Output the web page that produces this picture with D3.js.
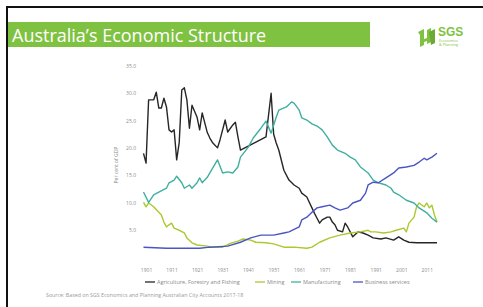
<!DOCTYPE html>
<html><head><meta charset="utf-8">
<script src="https://cdn.jsdelivr.net/npm/d3@7"></script>
<style>html,body{margin:0;padding:0;background:#fff;overflow:hidden}</style>
</head><body>
<svg id="c" width="483" height="307"></svg>
<script>
const title = "Australia\u2019s Economic Structure";
const yAxisTitle = "Per cent of GDP";
const yTicks = [5, 10, 15, 20, 25, 30, 35];
const xTicks = [1901, 1911, 1921, 1931, 1941, 1951, 1961, 1971, 1981, 1991, 2001, 2011];
const seriesNames = ["Agriculture, Forestry and Fishing", "Mining", "Manufacturing", "Business services"];
const seriesColors = ["#262626", "#a9c92f", "#3fb0a0", "#4a55c4"];
const source = "Source: Based on SGS Economics and Planning Australian City Accounts 2017-18";

const agriculture = [[1900,19],[1901,17.2],[1902,28.8],[1904,28.8],[1905,30.2],[1906,27.3],[1907,27.3],[1908,29.1],[1909,27.5],[1910,23.3],[1911,22.9],[1912,23.3],[1913,17.8],[1914,21],[1915,30.6],[1916,31],[1917,28.8],[1918,23.6],[1919,27.8],[1921,25.6],[1922,23.3],[1923,26.4],[1925,22.8],[1926,21.8],[1927,21],[1929,20],[1930,21.5],[1932,25.1],[1933,22.9],[1935,24.2],[1936,24.7],[1937,22],[1938,19.6],[1948,22],[1950,30],[1951,22.5],[1952,20.9],[1953,19.6],[1955,15.9],[1957,14.1],[1959,13.2],[1961,12.6],[1962,11.7],[1964,11],[1965,10],[1966,9],[1967,8],[1968,7.1],[1969,6.2],[1970,6.8],[1972,7.3],[1973,7.3],[1974,6.4],[1975,5.9],[1976,4.9],[1978,4.6],[1979,6.2],[1980,5.5],[1981,4.6],[1982,3.7],[1984,4.6],[1986,4.4],[1988,4],[1990,3.5],[1993,3.3],[1995,3.5],[1998,3.1],[2000,3.7],[2002,3.1],[2004,2.7],[2007,2.6],[2011,2.6],[2015,2.6]];
const mining = [[1900,10],[1901,9.2],[1902,9.9],[1904,9.2],[1906,8.2],[1907,7.7],[1908,6.4],[1909,5.5],[1910,5.9],[1911,6.2],[1912,5.3],[1914,4.9],[1916,4.4],[1917,3.5],[1919,2.6],[1921,2.2],[1925,2.0],[1927,1.8],[1931,1.8],[1934,2.5],[1937,2.9],[1939,3.3],[1942,3.1],[1944,2.7],[1948,2.6],[1951,2.4],[1955,1.8],[1959,1.8],[1964,1.6],[1966,1.8],[1969,2.7],[1973,3.5],[1977,4],[1981,4.4],[1985,4.6],[1988,4.9],[1989,4.6],[1991,4.6],[1994,4.4],[1997,4.6],[1999,4.9],[2002,5.3],[2003,4.6],[2004,6.2],[2006,7.3],[2007,9.2],[2008,9.9],[2010,9.2],[2011,9.9],[2012,9],[2013,9.5],[2014,7.7],[2015,6.4]];
const manufacturing = [[1900,11.9],[1902,10],[1904,11.4],[1906,11.9],[1909,12.6],[1910,13.6],[1912,14.1],[1913,14.8],[1915,13.6],[1916,12.6],[1918,13.2],[1919,12.6],[1921,13.6],[1922,14.5],[1923,13.6],[1925,14.6],[1926,15.4],[1929,17.8],[1931,15.4],[1933,15.6],[1935,15.4],[1937,16.5],[1938,18.3],[1941,20.1],[1943,21.8],[1946,23.6],[1948,24.9],[1950,22.7],[1952,25.6],[1953,26.9],[1956,27.5],[1958,28.4],[1959,28.2],[1961,26.9],[1962,25.5],[1964,25.1],[1966,24.4],[1968,24],[1970,23.3],[1972,22],[1974,20.5],[1976,19.6],[1979,19],[1981,18.3],[1983,17.8],[1985,16.5],[1988,15.4],[1990,14.1],[1992,13.6],[1995,13.2],[1997,12.6],[1998,11.9],[2000,11.4],[2003,10.4],[2006,9.9],[2008,9],[2011,8.1],[2013,7.1],[2015,6.4]];
const businessServices = [[1900,1.8],[1909,1.6],[1922,1.6],[1926,1.8],[1933,2.0],[1938,2.7],[1942,3.5],[1946,4],[1951,4],[1955,4.4],[1957,4.6],[1961,5.5],[1962,6.8],[1964,7.3],[1966,8.2],[1968,9],[1970,9.2],[1973,9.5],[1975,9],[1977,8.6],[1980,9],[1982,9.9],[1985,10.4],[1987,11.7],[1988,13.2],[1990,13.7],[1992,13.6],[1995,14.5],[1998,15.4],[2000,16.3],[2003,16.5],[2006,16.8],[2008,17.4],[2010,18.1],[2011,17.8],[2013,18.3],[2015,19]];

const allSeries = [agriculture, mining, manufacturing, businessServices];

const svg = d3.select("#c");
const font = "'Open Sans', 'Noto Sans', sans-serif";

// slide frame
svg.append("rect").attr("x",0).attr("y",0).attr("width",483).attr("height",307).attr("fill","#fff");
svg.append("line").attr("x1",7).attr("x2",7).attr("y1",6).attr("y2",307).attr("stroke","#111").attr("stroke-width",2);
svg.append("line").attr("x1",6).attr("x2",483).attr("y1",7).attr("y2",7).attr("stroke","#111").attr("stroke-width",2);

// title bar
svg.append("rect").attr("x",8).attr("y",22).attr("width",362).attr("height",25).attr("fill","#7fc241");
svg.append("text").attr("x",12).attr("y",41.5).attr("fill","#fff").attr("font-family",font)
  .attr("font-size",18).text(title);

// logo
const logo = svg.append("g").attr("transform","translate(418,26)");
logo.append("path").attr("d","M0,6 L6,3 L6,13 L9,12 L9,4 L13,2 L13,16 L9,18 L9,15 L6,16 L6,19 L2,21 L2,9 Z").attr("fill","#7fc241");
logo.append("path").attr("d","M11,6 L17,3 L17,17 L13,19 Z").attr("fill","#6aaa35");
logo.append("text").attr("x",20).attr("y",10).attr("font-family","Arial, 'Liberation Sans', sans-serif").attr("font-weight","bold").attr("font-size",12).attr("fill","#7fc241").text("SGS");
logo.append("text").attr("x",21).attr("y",15.5).attr("font-family",font).attr("font-size",3.8).attr("fill","#7fc241").text("Economics");
logo.append("text").attr("x",21).attr("y",19.5).attr("font-family",font).attr("font-size",3.8).attr("fill","#7fc241").text("& Planning");

// scales
const x = d3.scaleLinear().domain([1900, 2015]).range([143.5, 437]);
const y = d3.scaleLinear().domain([0, 35]).range([257, 66]);

const tickColor = "#8a8a8a";
const yAxis = svg.append("g").attr("transform","translate(138,0)")
  .call(d3.axisLeft(y).tickValues(yTicks).tickSize(0).tickPadding(2).tickFormat(d3.format(".1f")));
yAxis.select(".domain").remove();
yAxis.selectAll("text").attr("fill",tickColor).attr("font-family",font).attr("font-size",5);

const xAxis = svg.append("g").attr("transform","translate(0,266)")
  .call(d3.axisBottom(x).tickValues(xTicks).tickSize(0).tickPadding(2).tickFormat(d3.format("d")));
xAxis.select(".domain").remove();
xAxis.selectAll("text").attr("fill",tickColor).attr("font-family",font).attr("font-size",5);

svg.append("text").attr("transform","translate(118,165) rotate(-90)").attr("text-anchor","middle")
  .attr("fill",tickColor).attr("font-family",font).attr("font-size",5).text(yAxisTitle);

// lines
const line = d3.line().x(d => x(d[0])).y(d => y(d[1]));
allSeries.forEach((s, i) => {
  svg.append("path").datum(s).attr("d", line).attr("fill","none")
    .attr("stroke", seriesColors[i]).attr("stroke-width",1.4).attr("stroke-linejoin","round");
});

// legend
const legendX = [145, 255, 291, 353];
const legend = svg.append("g").attr("transform","translate(0,282)");
seriesNames.forEach((n, i) => {
  legend.append("line").attr("x1",legendX[i]).attr("x2",legendX[i]+10).attr("y1",0).attr("y2",0)
    .attr("stroke",seriesColors[i]).attr("stroke-width",1.3);
  legend.append("text").attr("x",legendX[i]+12).attr("y",1.9).attr("fill",tickColor)
    .attr("font-family",font).attr("font-size",5.5).text(n);
});

svg.append("text").attr("x",46).attr("y",297).attr("fill","#9a9a9a").attr("font-family",font)
  .attr("font-size",5.3).text(source);
</script>
</body></html>
